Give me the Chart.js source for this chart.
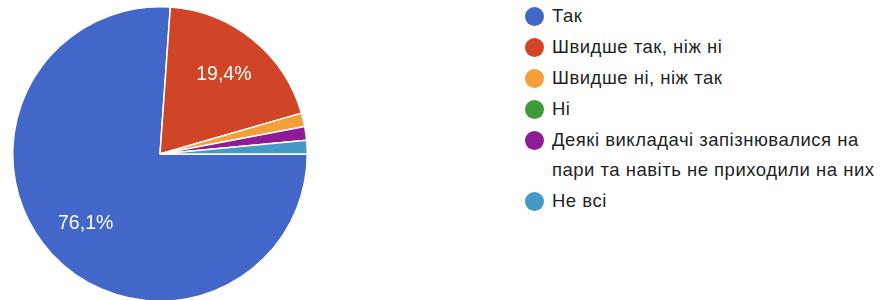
<!DOCTYPE html>
<html>
<head>
<meta charset="utf-8">
<script src="https://cdn.jsdelivr.net/npm/chart.js@4.4.0/dist/chart.umd.min.js"></script>
<style>
  html, body { margin: 0; padding: 0; background: #fff; overflow: hidden; }
  body { width: 887px; height: 300px; position: relative; font-family: "Liberation Sans", Arial, sans-serif; }
  #pieBox { position: absolute; left: 12px; top: 6px; width: 296px; height: 296px; }
  #legend { position: absolute; left: 525px; top: 1px; width: 362px; }
  .item { display: flex; align-items: flex-start; margin-bottom: 1px; }
  .dot { width: 19px; height: 19px; border-radius: 50%; flex: none; margin-top: 6px; margin-right: 8px; }
  .txt { font-size: 18.5px; line-height: 30px; letter-spacing: 0.5px; color: #1f1f1f; width: 340px; }
</style>
</head>
<body>
<div id="pieBox"><canvas id="myChart"></canvas></div>
<div id="legend"></div>
<script>
const labels = ['Так', 'Швидше так, ніж ні', 'Швидше ні, ніж так', 'Ні',
  'Деякі викладачі запізнювалися на пари та навіть не приходили на них', 'Не всі'];
const counts = [51, 13, 1, 0, 1, 1];
const colors = ['#4267c8', '#cf4526', '#f3a03a', '#3f9a3a', '#8e1b98', '#4599c7'];

const total = counts.reduce((a, b) => a + b, 0);

// legend as html so the long label can wrap
let legendBox = document.getElementById('legend');
labels.forEach((l, k) => {
  let row = document.createElement('div');
  row.className = 'item';
  row.innerHTML = `<span class="dot" style="background:${colors[k]}"></span><span class="txt">${l}</span>`;
  legendBox.appendChild(row);
});

// percent labels inside the big slices
const sliceLabels = {
  id: 'sliceLabels',
  afterDatasetsDraw(chart) {
    const c = chart.ctx;
    const meta = chart.getDatasetMeta(0);
    c.save();
    c.fillStyle = '#fff';
    c.font = '19.5px "Liberation Sans", Arial, sans-serif';
    c.textAlign = 'center';
    c.textBaseline = 'middle';
    meta.data.forEach((arc, k) => {
      const share = counts[k] / total;
      if (share < 0.05) return;
      const mid = (arc.startAngle + arc.endAngle) / 2;
      const r = arc.outerRadius * 0.69;
      const txt = (share * 100).toFixed(1).replace('.', ',') + '%';
      c.fillText(txt, arc.x + Math.cos(mid) * r, arc.y + Math.sin(mid) * r);
    });
    c.restore();
  }
};

const ctx = document.getElementById('myChart');

var chart = new Chart(ctx, {
  type: 'pie',
  data: {
    labels: labels,
    datasets: [{
      data: counts,
      backgroundColor: colors,
      borderColor: '#fff',
      borderWidth: 1.5
    }]
  },
  options: {
    responsive: true,
    maintainAspectRatio: false,
    animation: false,
    rotation: 90,
    plugins: {
      legend: { display: false },
      tooltip: { enabled: false }
    }
  },
  plugins: [sliceLabels]
});
</script>
</body>
</html>
